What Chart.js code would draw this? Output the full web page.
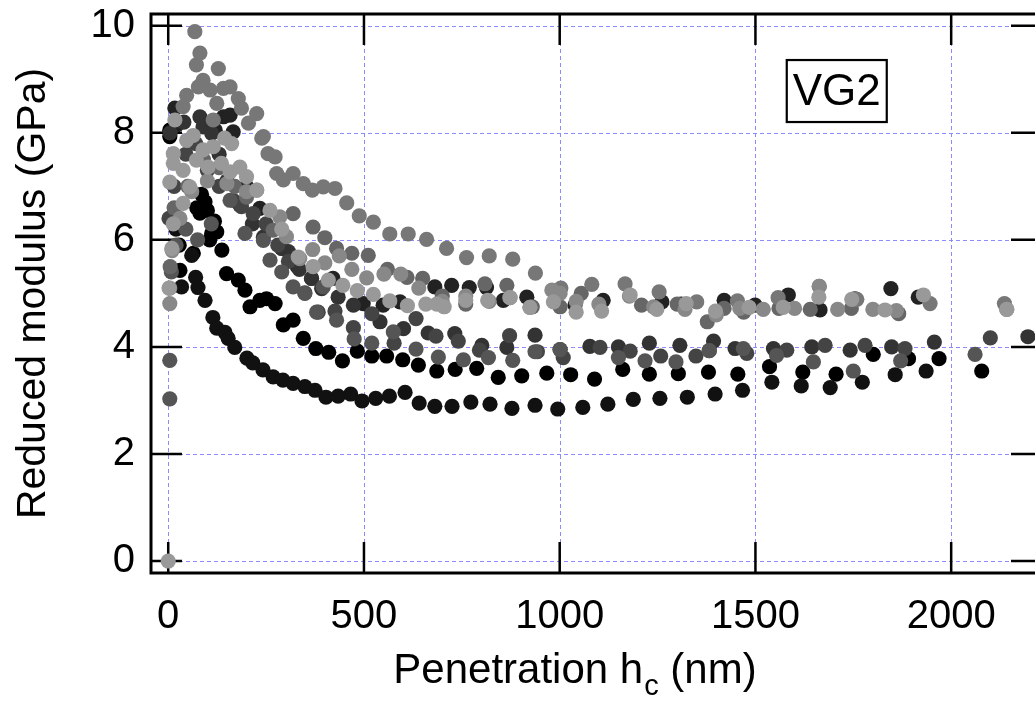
<!DOCTYPE html>
<html>
<head>
<meta charset="utf-8">
<script src="https://cdn.jsdelivr.net/npm/chart.js@4"></script>
<style>
html,body{margin:0;padding:0;background:#fff;overflow:hidden;}
#wrap{width:1060px;height:702px;}
</style>
</head>
<body>
<div id="wrap"><canvas id="c" width="1060" height="702"></canvas></div>
<script>
// ---- data (penetration h_c in nm, reduced modulus in GPa) ----
const xTicks = [0, 500, 1000, 1500, 2000];
const yTicks = [0, 2, 4, 6, 8, 10];
const xLabel = 'Penetration h';
const xLabelSub = 'c';
const xLabelTail = ' (nm)';
const yLabel = 'Reduced modulus (GPa)';
const sampleLabel = 'VG2';

const s999 = [[0,0],[2,5.1],[4,7.08],[9,5.84],[13,6.3],[13,7.61],[13,7.43],[17,8.24],[38,6.68],[38,7.3],[47,7.86],[55,6.99],[64,7.95],[72,7.49],[89,7.68],[102,7.36],[115,7.74],[136,7.43],[144,7.9],[158,7.27],[162,7.8],[183,7.36],[200,7.18],[226,6.93],[260,6.55],[290,6.2],[332,5.68],[370,5.5],[409,5.25],[446,5.15],[483,5.05],[524,4.98],[566,4.86],[611,4.77],[658,4.8],[686,4.8],[705,4.75],[760,4.87],[816,4.87],[873,4.92],[924,4.74],[984,4.84],[1042,4.65],[1107,4.67],[1180,4.97],[1248,4.7],[1323,4.81],[1398,4.67],[1484,4.74],[1571,4.74],[1662,4.93],[1746,4.89],[1831,4.69],[1929,4.97],[2142,4.7]];
const s888 = [[4,4.81],[4,5.1],[10,5.8],[30,6.4],[60,6.9],[100,7.1],[150,7.05],[200,6.9],[226,6.93],[285,6.43],[302,6.06],[336,5.65],[369,5.82],[400,5.57],[437,5.7],[469,5.45],[507,5.29],[551,5.36],[594,5.36],[640,5.1],[700,4.85],[760,4.95],[820,4.85],[873,4.92],[924,4.74],[980,5.06],[1001,5.0],[1042,4.85],[1100,4.8],[1178,4.95],[1240,4.75],[1320,4.7],[1400,4.6],[1460,4.72],[1520,4.7],[1600,4.72],[1663,5.13],[1710,4.7],[1800,4.7],[1860,4.68],[2142,4.7]];
const s777 = [[68,9.89],[72,9.27],[81,9.49],[89,8.98],[128,9.2],[38,8.49],[47,8.7],[77,8.86],[107,8.8],[115,8.24],[124,8.55],[141,8.83],[158,8.86],[179,8.64],[187,8.46],[205,8.18],[226,8.36],[239,7.9],[243,7.93],[255,7.61],[273,7.55],[277,7.24],[294,7.12],[319,7.24],[345,7.05],[368,6.93],[396,6.99],[426,6.96],[456,6.69],[488,6.45],[524,6.33],[566,6.11],[613,6.11],[660,6.01],[711,5.84],[762,5.67],[820,5.70],[880,5.64],[938,5.38],[1003,5.1],[1082,5.17],[1167,5.18],[1254,5.03],[1350,4.84],[1454,4.86],[1558,4.92],[1663,5.13],[1759,4.89],[1946,4.81],[2136,4.81]];
const s666 = [[5,5.5],[15,6.6],[50,7.0],[90,7.5],[130,7.35],[170,7.0],[200,6.8],[268,6.18],[319,6.49],[370,6.24],[400,6.04],[430,5.84],[469,5.75],[511,5.71],[560,5.45],[610,5.3],[650,5.28],[700,4.95],[760,4.8],[809,5.18],[865,5.15],[930,4.75],[1001,4.75],[1055,5.0],[1209,4.78],[1300,4.8],[1377,4.47],[1420,4.72],[1470,4.65],[1560,4.72],[1640,4.7],[1745,4.72],[1866,4.62]];
const s555 = [[4,3.03],[4,3.75],[8,5.4],[20,5.9],[45,6.2],[75,6.0],[110,6.3],[158,6.74],[196,6.12],[243,5.99],[260,5.62],[290,5.4],[319,5.12],[349,5.0],[379,4.65],[396,5.12],[430,4.5],[475,4.15],[520,4.07],[575,4.28],[633,3.96],[690,3.81],[754,3.76],[818,3.8],[880,3.75],[937,3.91],[1001,3.95],[1150,3.8],[1218,3.74],[1297,3.72],[1382,3.93],[1469,3.97],[1554,3.84],[1648,3.72],[1750,3.55],[1871,3.74],[2061,3.86]];
const s444 = [[2,6.4],[15,7.0],[45,7.6],[70,7.8],[100,7.3],[130,7.0],[166,6.74],[187,6.62],[217,6.49],[250,6.3],[280,5.9],[307,5.6],[349,5.01],[383,4.65],[426,4.67],[473,4.36],[520,4.62],[577,4.07],[633,4.53],[684,4.2],[741,4.11],[795,3.94],[872,4.21],[943,3.91],[1009,3.8],[1103,3.99],[1180,3.92],[1258,3.83],[1348,3.83],[1382,3.93],[1478,3.88],[1580,3.94],[1678,4.03],[1780,4.03],[1882,3.97],[2100,4.17]];
const s333 = [[5,8.0],[40,8.2],[81,8.3],[89,8.11],[111,7.99],[130,7.6],[150,7.1],[183,6.65],[215,6.3],[243,6.05],[290,5.84],[307,5.78],[335,5.45],[366,5.28],[392,5.09],[434,4.93],[473,4.78],[541,4.47],[601,4.34],[664,4.26],[732,4.25],[801,4.03],[865,3.99],[937,4.22],[1001,3.95],[1077,4.01],[1150,4.0],[1229,4.07],[1307,4.03],[1393,4.11],[1448,3.97],[1546,3.97],[1644,4.0],[1742,3.94],[1848,4.0],[1957,4.09],[2196,4.19]];
const s222 = [[17,8.46],[22,8.15],[120,8.05],[141,8.3],[158,8.33],[166,8.02],[200,7.0],[234,6.59],[290,5.84],[330,5.5],[366,5.28],[421,5.28],[498,4.81],[549,4.78],[592,4.84],[681,5.12],[724,5.15],[769,5.11],[813,5.11],[856,4.87],[916,4.93],[1039,4.78],[1111,4.87],[1261,4.84],[1310,4.8],[1420,4.87],[1499,4.78],[1584,4.97],[1665,4.69],[1754,4.9],[1846,5.09],[1916,4.93]];
const s111 = [[20,6.2],[34,5.12],[60,5.71],[70,5.3],[76,5.11],[94,4.87],[114,4.55],[124,4.35],[145,4.27],[153,4.16],[170,3.99],[201,3.79],[216,3.70],[242,3.57],[268,3.44],[293,3.38],[319,3.32],[349,3.26],[375,3.19],[403,3.06],[434,3.08],[466,3.12],[495,2.99],[530,3.04],[565,3.08],[605,3.15],[641,2.95],[681,2.89],[725,2.89],[773,2.97],[822,2.93],[878,2.85],[937,2.91],[995,2.84],[1059,2.87],[1123,2.93],[1188,3.02],[1256,3.04],[1326,3.06],[1397,3.12],[1467,3.19],[1542,3.34],[1617,3.27],[1691,3.24],[1773,3.34],[1857,3.48],[1936,3.55]];
const s000 = [[4,8.05],[4,7.93],[28,5.9],[30,5.43],[64,5.75],[73,6.6],[81,6.5],[85,6.85],[94,6.71],[100,6.55],[106,6.0],[111,6.12],[118,6.35],[124,6.15],[137,5.81],[149,5.37],[179,5.25],[196,5.06],[209,4.75],[234,4.87],[251,4.90],[273,4.81],[294,4.41],[319,4.50],[345,4.16],[377,3.97],[410,3.9],[445,3.74],[483,3.92],[520,3.83],[558,3.83],[599,3.76],[639,3.66],[686,3.55],[733,3.58],[788,3.6],[843,3.43],[903,3.46],[967,3.51],[1028,3.48],[1089,3.40],[1161,3.58],[1229,3.49],[1303,3.5],[1380,3.53],[1455,3.49],[1536,3.63],[1621,3.53],[1706,3.49],[1801,3.86],[1891,3.78],[1969,3.78],[2078,3.55]];

// top-most first (Chart.js draws dataset 0 last)
const seriesList = [s999, s888, s777, s666, s555, s444, s333, s222, s111, s000];
const seriesColors = ['#999999','#888888','#777777','#666666','#555555','#444444','#333333','#222222','#111111','#000000'];

const FONT = '"Liberation Sans", Arial, Helvetica, sans-serif';

const datasets = seriesList.map((s, i) => ({
  data: s.map(p => ({x: p[0], y: p[1]})),
  backgroundColor: seriesColors[i],
  borderWidth: 0,
  pointRadius: 7.6,
  pointHoverRadius: 7.6,
  showLine: false
}));

const framePlugin = {
  id: 'frame',
  beforeDatasetsDraw(chart) {
    const {ctx, chartArea: a, scales: {x, y}} = chart;
    const TL = 31;
    ctx.save();
    // dashed grid
    ctx.strokeStyle = '#8c8cff';
    ctx.lineWidth = 1;
    ctx.setLineDash([4, 3]);
    ctx.beginPath();
    xTicks.forEach(v => {
      const px = Math.round(x.getPixelForValue(v)) + 0.5;
      ctx.moveTo(px, a.top); ctx.lineTo(px, a.bottom);
    });
    yTicks.forEach(v => {
      const py = Math.round(y.getPixelForValue(v)) + 0.5;
      ctx.moveTo(a.left, py); ctx.lineTo(a.right, py);
    });
    ctx.stroke();
    ctx.setLineDash([]);
    // inward ticks on all four sides
    ctx.strokeStyle = '#000';
    ctx.lineWidth = 2.5;
    ctx.beginPath();
    xTicks.forEach(v => {
      const px = x.getPixelForValue(v);
      ctx.moveTo(px, a.bottom); ctx.lineTo(px, a.bottom - TL);
      ctx.moveTo(px, a.top); ctx.lineTo(px, a.top + TL);
    });
    yTicks.forEach(v => {
      const py = y.getPixelForValue(v);
      ctx.moveTo(a.left, py); ctx.lineTo(a.left + TL, py);
      ctx.moveTo(a.right, py); ctx.lineTo(a.right - TL, py);
    });
    ctx.stroke();
    ctx.lineWidth = 3;
    ctx.strokeRect(a.left, a.top, a.right - a.left, a.bottom - a.top);
    ctx.restore();
  },
  afterDraw(chart) {
    const {ctx, scales: {x, y}} = chart;
    ctx.save();
    ctx.fillStyle = '#000';
    ctx.textBaseline = 'alphabetic';
    ctx.textAlign = 'left';
    // x-axis title with subscript
    ctx.font = '42px ' + FONT;
    const w1 = ctx.measureText(xLabel).width;
    ctx.font = '29px ' + FONT;
    const w2 = ctx.measureText(xLabelSub).width;
    ctx.font = '42px ' + FONT;
    const w3 = ctx.measureText(xLabelTail).width;
    const total = w1 + w2 + w3;
    const cx = (393 + 756) / 2;
    let sx = cx - total / 2;
    const base = 683;
    ctx.fillText(xLabel, sx, base);
    ctx.font = '29px ' + FONT;
    ctx.fillText(xLabelSub, sx + w1 + 1, base + 12);
    ctx.font = '42px ' + FONT;
    ctx.fillText(xLabelTail, sx + w1 + w2 + 1, base);
    // sample label box
    const bx = x.getPixelForValue(1580), by = y.getPixelForValue(9.36);
    const bw = 100, bh = 62;
    ctx.lineWidth = 2.2;
    ctx.strokeStyle = '#000';
    ctx.fillStyle = '#fff';
    ctx.fillRect(bx, by, bw, bh);
    ctx.strokeRect(bx, by, bw, bh);
    ctx.fillStyle = '#000';
    ctx.font = '44px ' + FONT;
    ctx.textAlign = 'center';
    ctx.textBaseline = 'middle';
    ctx.fillText(sampleLabel, bx + bw / 2, by + bh / 2 + 2);
    ctx.restore();
  }
};

const plainTick = v => String(v);

new Chart(document.getElementById('c'), {
  type: 'scatter',
  data: {datasets},
  plugins: [framePlugin],
  options: {
    responsive: false,
    animation: false,
    devicePixelRatio: 1,
    layout: {padding: {left: 0, top: 14, right: 18, bottom: 0}},
    plugins: {legend: {display: false}, tooltip: {enabled: false}},
    elements: {point: {borderWidth: 0}},
    scales: {
      x: {
        type: 'linear', position: 'bottom', min: -44, max: 2232,
        afterBuildTicks: s => { s.ticks = xTicks.map(v => ({value: v})); },
        afterFit: s => { s.height = 129; },
        ticks: {font: {family: FONT, size: 40}, color: '#000', padding: 0, maxRotation: 0, autoSkip: false, callback: plainTick},
        grid: {display: true, drawOnChartArea: false, drawTicks: true, tickLength: 20, tickColor: 'rgba(0,0,0,0)', color: 'rgba(0,0,0,0)'},
        border: {display: false},
        title: {display: false}
      },
      y: {
        type: 'linear', position: 'left', min: -0.224, max: 10.22,
        afterBuildTicks: s => { s.ticks = yTicks.map(v => ({value: v})); },
        afterFit: s => { s.width = 151; },
        ticks: {font: {family: FONT, size: 40, lineHeight: 0.6}, color: '#000', padding: 0, autoSkip: false, callback: plainTick},
        grid: {display: true, drawOnChartArea: false, drawTicks: true, tickLength: 16, tickColor: 'rgba(0,0,0,0)', color: 'rgba(0,0,0,0)'},
        border: {display: false},
        title: {display: true, text: yLabel, color: '#000', font: {family: FONT, size: 41}, padding: {top: 9, bottom: 0}}
      }
    }
  }
});
</script>
</body>
</html>
